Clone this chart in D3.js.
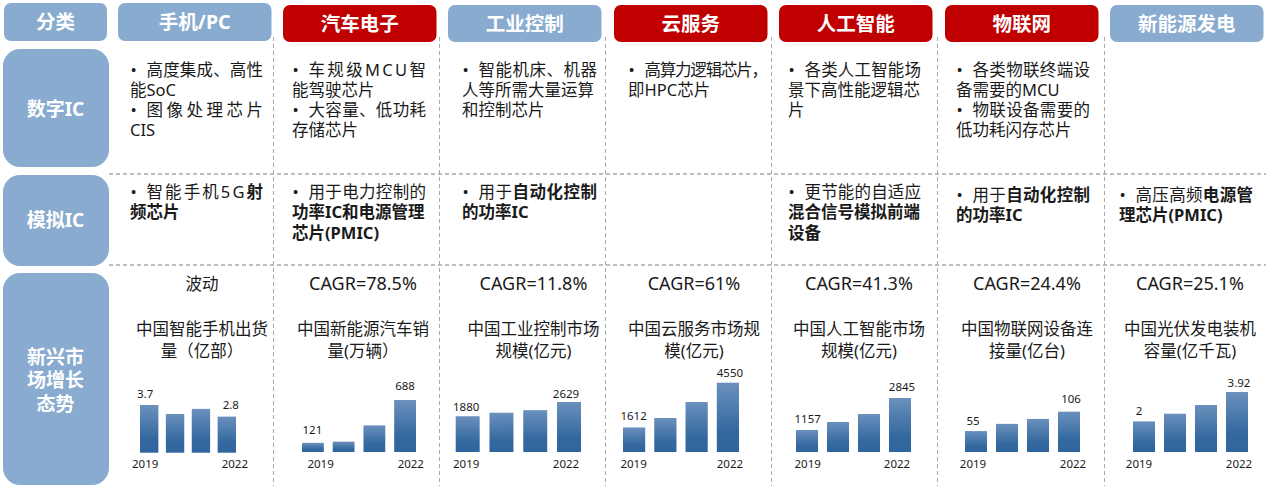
<!DOCTYPE html>
<html lang="zh"><head><meta charset="utf-8">
<script src="https://cdnjs.cloudflare.com/ajax/libs/d3/7.8.5/d3.min.js"></script>
<style>html,body{margin:0;padding:0;background:#fff;overflow:hidden}svg{display:block}text{font-family:"Noto Sans","Noto Sans CJK SC",sans-serif}</style>
</head><body><svg id="c" width="1269" height="492"></svg>
<script>
// ---- data ----
const corner = "分类";
const sectors = ["手机/PC","汽车电子","工业控制","云服务","人工智能","物联网","新能源发电"];
const highlighted = [false,true,false,true,true,true,false];
const rowLabels = [["数字IC"],["模拟IC"],["新兴市","场增长","态势"]];
const digitalIC = [
 ["•高度集成、高性","能SoC","•图像处理芯片","CIS"],
 ["•车规级MCU智","能驾驶芯片","•大容量、低功耗","存储芯片"],
 ["•智能机床、机器","人等所需大量运算","和控制芯片"],
 ["•高算力逻辑芯片，","即HPC芯片"],
 ["•各类人工智能场","景下高性能逻辑芯","片"],
 ["•各类物联终端设","备需要的MCU","•物联设备需要的","低功耗闪存芯片"],
 []
];
const analogIC = [
 ["•智能手机5G**射**","**频芯片**"],
 ["•用于电力控制的","**功率IC和电源管理**","**芯片(PMIC)**"],
 ["•用于**自动化控制**","**的功率IC**"],
 [],
 ["•更节能的自适应","**混合信号模拟前端**","**设备**"],
 ["•用于**自动化控制**","**的功率IC**"],
 ["•高压高频**电源管**","**理芯片(PMIC)**"]
];
const growth = ["波动","CAGR=78.5%","CAGR=11.8%","CAGR=61%","CAGR=41.3%","CAGR=24.4%","CAGR=25.1%"];
const marketTitles = [
 ["中国智能手机出货","量（亿部）"],
 ["中国新能源汽车销","量(万辆）"],
 ["中国工业控制市场","规模(亿元)"],
 ["中国云服务市场规","模(亿元)"],
 ["中国人工智能市场","规模(亿元)"],
 ["中国物联网设备连","接量(亿台)"],
 ["中国光伏发电装机","容量(亿千瓦)"]
];
const years = ["2019","2020","2021","2022"];
const phoneShipments = [3.7,3.0,3.4,2.8];
const evSales = [121,137,352,688];
const industrialControl = [1880,2065,2200,2629];
const cloudServices = [1612,2230,3280,4550];
const aiMarket = [1157,1580,2000,2845];
const iotConnections = [55,74,87,106];
const pvCapacity = [2,2.5,3.07,3.92];
const seriesList = [phoneShipments,evSales,industrialControl,cloudServices,aiMarket,iotConnections,pvCapacity];
const valueLabels = [["3.7","2.8"],["121","688"],["1880","2629"],["1612","4550"],["1157","2845"],["55","106"],["2","3.92"]];

// ---- layout ----
const BLUE="#88abcf", RED="#c00000", INK="#1a1a1a";
const svg=d3.select("#c");
const defs=svg.append("defs");
const grad=defs.append("linearGradient").attr("id","barFill").attr("x1",0).attr("x2",0).attr("y1",0).attr("y2",1);
grad.append("stop").attr("offset","0%").attr("stop-color","#6b90bd");
grad.append("stop").attr("offset","70%").attr("stop-color","#34699f");
grad.append("stop").attr("offset","100%").attr("stop-color","#2f659e");

const headerX=[118,283,448,614,779,945,1110];
const colText=[[130,263],[292,426],[462,597],[628,768],[788,921],[956,1090],[1119,1253]];
const colMid=[202,363,533.5,694,859,1027,1190];
const analogBase=[198,198,198,198,198,200.5,200.5];
const barRange=[[140,236],[302,416],[455.7,581],[623,739],[796,911],[965,1080],[1133,1248]];
const barBase=[452.7,452,452,452,452,452,452];
const barTop=[405,400,402,382.7,398,411.7,392];
const tickDx=[[-4,8],[7.7,5.7],[-1.5,-3],[-0.5,2],[0.7,-3],[-3,4],[-5,2]];
const labelDx=[[-4,4],[-0.5,0],[-1.5,-3],[-0.5,2],[0.7,2],[-3,2],[-5,2]];
const labelGap=[[11,12],[13,14],[9,8],[11,10],[11,11],[10,12.7],[10,9]];

// dashed grid
const dash=svg.append("g").attr("fill","none").attr("stroke","#a9a9a9").attr("stroke-dasharray","4 3");
[273.5,439.5,605.5,771.5,937.5,1104.5].forEach(x=>dash.append("line").attr("x1",x).attr("x2",x).attr("y1",37).attr("y2",486).attr("stroke-width",1));
[174,265].forEach(y=>dash.append("line").attr("x1",109).attr("x2",1266).attr("y1",y).attr("y2",y).attr("stroke-width",1.3));

// headers
function box(x,y,w,h,r,c){svg.append("rect").attr("x",x).attr("y",y).attr("width",w).attr("height",h).attr("rx",r).attr("fill",c);}
function label(s,x,y,fs){svg.append("text").attr("x",x).attr("y",y).attr("text-anchor","middle").attr("font-size",fs).attr("font-weight",700).attr("fill","#fff").text(s);}
box(4,3,103,38,7,BLUE); label(corner,55.5,29,19.5);
sectors.forEach((s,i)=>{
  const top=i===0?3:5, h=i===0?38:37;
  box(headerX[i],top,153.5,h,7,highlighted[i]?RED:BLUE);
  label(s,headerX[i]+76.7,top+26,19.5);
});
// row labels
box(3,49,106,118,17,BLUE); label(rowLabels[0][0],55.5,115.5,19);
box(3,175,106,91,17,BLUE); label(rowLabels[1][0],55.5,227,19);
box(3,273,106,212,17,BLUE);
rowLabels[2].forEach((s,i)=>label(s,55.5,363.5+i*23.5,19));

// bullet text blocks
function block(lines,col,base,step){
  const [x0,x1]=colText[col];
  lines.forEach((raw,i)=>{
    const y=base+i*step, bullet=raw.startsWith("•"), body=bullet?raw.slice(1):raw;
    if(bullet) svg.append("text").attr("x",x0+0.5).attr("y",y).attr("font-size",16.5).attr("fill",INK).text("•");
    const t=svg.append("text").attr("x",bullet?x0+16.5:x0).attr("y",y).attr("font-size",16.5).attr("fill",INK);
    if(bullet) t.attr("textLength",x1-x0-16.5).attr("lengthAdjust","spacing");
    body.split("**").forEach((seg,k)=>{ if(seg) t.append("tspan").attr("font-weight",k%2?700:400).text(seg); });
  });
}
digitalIC.forEach((l,c)=>block(l,c,76,20));
analogIC.forEach((l,c)=>block(l,c,analogBase[c],20.3));

// market panels
seriesList.forEach((vals,c)=>{
  svg.append("text").attr("x",colMid[c]).attr("y",290).attr("text-anchor","middle")
    .attr("font-size",growth[c].startsWith("CAGR")?18:16.5).attr("fill",INK).text(growth[c]);
  marketTitles[c].forEach((s,i)=>svg.append("text").attr("x",colMid[c]).attr("y",335+i*22).attr("text-anchor","middle").attr("font-size",16.5).attr("fill",INK).text(s));
  const x=d3.scaleBand().domain(years).range(barRange[c]).paddingInner(0.29).paddingOuter(0);
  const y=d3.scaleLinear().domain([0,d3.max(vals)]).range([barBase[c],barTop[c]]);
  const g=svg.append("g");
  g.selectAll("rect").data(vals).join("rect")
    .attr("x",(d,i)=>x(years[i])).attr("y",d=>y(d)).attr("width",x.bandwidth())
    .attr("height",d=>y(0)-y(d)).attr("fill","url(#barFill)");
  [0,3].forEach((idx,k)=>{
    const cx=x(years[idx])+x.bandwidth()/2;
    g.append("text").attr("x",cx+tickDx[c][k]).attr("y",468).attr("text-anchor","middle").attr("font-size",11.5).attr("fill",INK).text(years[idx]);
    g.append("text").attr("x",cx+labelDx[c][k]).attr("y",y(vals[idx])-labelGap[c][k]+4).attr("text-anchor","middle").attr("font-size",11.5).attr("fill",INK).text(valueLabels[c][k]);
  });
});
</script></body></html>
